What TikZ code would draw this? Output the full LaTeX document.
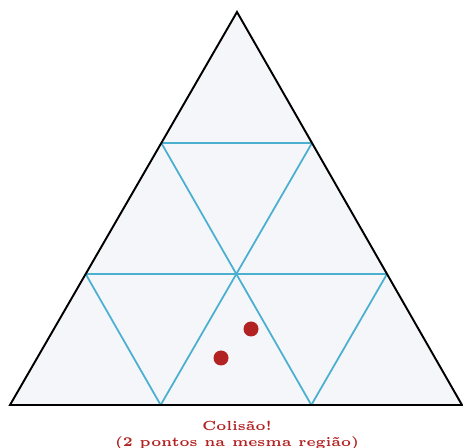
\documentclass[tikz,border=0pt]{standalone}
\usepackage{tikz}
\usetikzlibrary{calc}
\definecolor{fundo}{HTML}{F4F6FA}
\definecolor{grade}{HTML}{4BAFD0}
\definecolor{ponto}{HTML}{B22222}

\begin{document}
\begin{tikzpicture}[
    x=0.02cm, y=-0.02cm,
    borda/.style={draw=black, line width=1.1pt, line join=miter},
    divisao/.style={draw=grade, line width=1pt},
    pontinho/.style={circle, fill=ponto, inner sep=0pt, minimum size=0.3cm},
    aviso/.style={text=ponto, font=\bfseries\fontsize{5}{6.1}\selectfont, align=center, inner sep=0pt, scale=1.5, transform shape}
]
    \useasboundingbox (0,0) rectangle (463,448);

    % Vertices
    \coordinate (A) at (10,405);
    \coordinate (B) at (462,405);
    \coordinate (C) at (237,12);

    % Division points
    \coordinate (ab1) at ($(A)!1/3!(B)$);
    \coordinate (ab2) at ($(A)!2/3!(B)$);
    \coordinate (ac1) at ($(A)!1/3!(C)$);
    \coordinate (ac2) at ($(A)!2/3!(C)$);
    \coordinate (bc1) at ($(B)!1/3!(C)$);
    \coordinate (bc2) at ($(B)!2/3!(C)$);

    % Background
    \fill [fundo] (A) -- (B) -- (C) -- cycle;

    % Grid
    \draw [divisao] (ac1) -- (bc1);
    \draw [divisao] (ac2) -- (bc2);
    \draw [divisao] (ab1) -- (bc2);
    \draw [divisao] (ab2) -- (ac2);
    \draw [divisao] (ac1) -- (ab1);
    \draw [divisao] (bc1) -- (ab2);

    % Outline
    \draw [borda] (A) -- (B) -- (C) -- cycle;

    % Points
    \node [pontinho] (p1) at (251,329) {};
    \node [pontinho] (p2) at (221,358) {};

    % Label
    \node [aviso] (msg) at (237,435.5) {Colisão!\\(2 pontos na mesma região)};
\end{tikzpicture}
\end{document}
